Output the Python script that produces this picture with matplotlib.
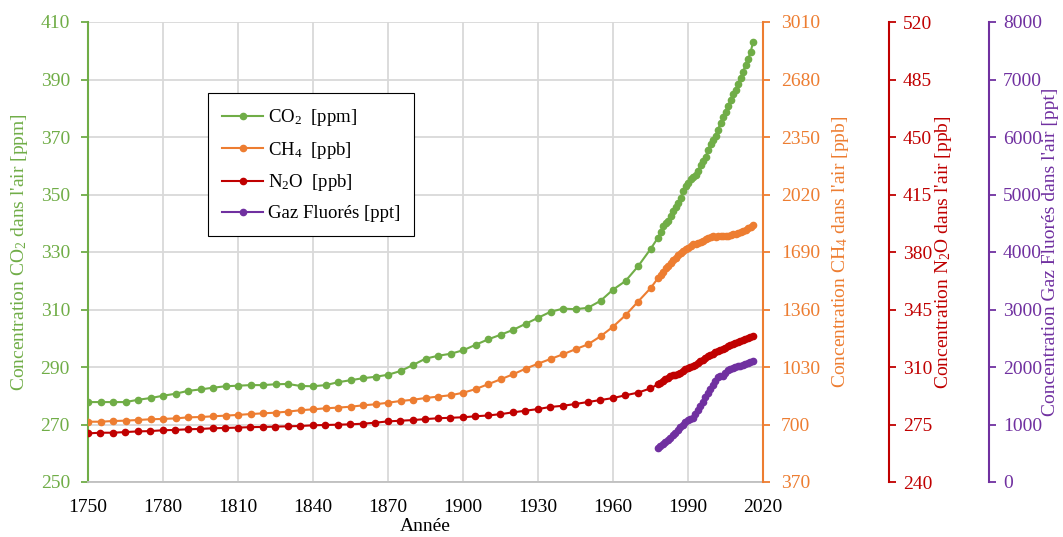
import matplotlib
matplotlib.use("Agg")
import matplotlib.pyplot as plt

plt.rcParams['font.family'] = ['Liberation Serif', 'DejaVu Serif']
plt.rcParams['mathtext.fontset'] = 'custom'
plt.rcParams['mathtext.rm'] = 'Liberation Serif'
plt.rcParams['mathtext.it'] = 'Liberation Serif'
plt.rcParams['font.size'] = 14

# années : tous les 5 ans jusqu'en 1975, puis annuel 1978-2016
annees_hist = list(range(1750, 1980, 5))
annees_mod = list(range(1978, 2017))

co2_hist = [277.8, 277.8, 277.8, 277.8, 278.6, 279.2, 280.0, 280.7, 281.7, 282.2,
            282.8, 283.3, 283.5, 283.7, 283.7, 284.0, 284.1, 283.4, 283.3, 283.7,
            284.7, 285.4, 286.1, 286.6, 287.3, 288.6, 290.7, 292.9, 293.9, 294.6,
            295.8, 297.7, 299.6, 301.2, 302.9, 305.0, 307.1, 309.2, 310.3, 310.1,
            310.6, 313.0, 316.9, 319.9, 325.0, 331.0]
co2_mod = [335.0, 336.8,
           338.9, 340.1, 340.9, 342.5, 344.1, 345.5, 346.9, 348.7, 351.2, 352.8,
           354.0, 355.4, 356.2, 356.9, 358.3, 360.2, 361.8, 362.9, 365.5, 367.5,
           368.8, 370.4, 372.4, 375.0, 376.8, 378.8, 380.9, 382.7, 384.8, 386.3,
           388.6, 390.5, 392.5, 395.2, 397.1, 399.4, 402.9]

ch4_hist = [716, 716, 720, 722, 726, 730, 732, 735, 741, 743,
            747, 751, 755, 760, 764, 768, 774, 782, 787, 793,
            797, 802, 810, 816, 825, 835, 842, 852, 860, 868,
            882, 903, 931, 959, 988, 1020, 1049, 1076, 1103, 1132,
            1160, 1206, 1261, 1327, 1405, 1482]
ch4_mod = [1540, 1560,
           1578, 1596, 1612, 1627, 1644, 1657, 1670, 1683, 1693, 1705,
           1714, 1724, 1735, 1736, 1742, 1749, 1751, 1762, 1772, 1778,
           1779, 1778, 1779, 1781, 1780, 1779, 1780, 1785, 1791, 1796,
           1801, 1805, 1810, 1816, 1825, 1836, 1845]

n2o_hist = [269.6, 270.0, 270.0, 270.4, 270.8, 271.0, 271.5, 271.7, 272.1, 272.3,
            272.7, 272.9, 273.1, 273.4, 273.5, 273.7, 273.9, 274.1, 274.5, 274.7,
            274.9, 275.1, 275.5, 276.1, 276.9, 277.3, 277.7, 278.3, 278.8, 279.1,
            279.4, 280.0, 280.5, 281.3, 282.4, 283.4, 284.4, 285.7, 286.4, 287.5,
            288.7, 289.9, 291.1, 292.8, 294.4, 297.0]
n2o_mod = [299.5, 300.5,
           301.5, 302.6, 303.6, 304.3, 304.9, 305.4, 305.9, 306.6, 307.5, 308.5,
           309.4, 310.1, 310.6, 311.2, 312.3, 313.4, 314.5, 315.7, 316.6, 317.4,
           318.2, 318.9, 319.6, 320.3, 321.0, 321.8, 322.6, 323.2, 323.9, 324.5,
           325.1, 325.8, 326.4, 327.0, 327.6, 328.2, 328.9]

fluor_mod = [590, 625,
             660, 695, 730, 770, 810, 860, 905, 950, 1000, 1040,
             1075, 1095, 1120, 1190, 1260, 1330, 1400, 1470, 1540, 1610,
             1680, 1750, 1820, 1840, 1850, 1900, 1950, 1965, 1980, 1995,
             2010, 2025, 2040, 2055, 2070, 2085, 2100]

annees = annees_hist + annees_mod
vert, orange, rouge, violet = '#70AD47', '#ED7D31', '#C00000', '#7030A0'

fig = plt.figure(figsize=(10.63, 5.37), dpi=100)
ax = fig.add_axes([88/1063, 1 - 482/537, 675/1063, 460/537])
ax2 = ax.twinx()
ax3 = ax.twinx()
ax4 = ax.twinx()

kw = dict(marker='o', markersize=4.5, linewidth=1.5)
l1, = ax.plot(annees, co2_hist + co2_mod, color=vert, label='CO$_2$  [ppm]', **kw)
l2, = ax2.plot(annees, ch4_hist + ch4_mod, color=orange, label='CH$_4$  [ppb]', **kw)
l3, = ax3.plot(annees, n2o_hist + n2o_mod, color=rouge, label='N$_2$O  [ppb]', **kw)
l4, = ax4.plot(annees_mod, fluor_mod, color=violet, label='Gaz Fluorés [ppt]', **kw)

ax.set_xlim(1750, 2020)
ax.set_xticks(range(1750, 2021, 30))
ax.set_ylim(250, 410)
ax.set_yticks(range(250, 411, 20))
ax2.set_ylim(370, 3010)
ax2.set_yticks(range(370, 3011, 330))
ax3.set_ylim(240, 520)
ax3.set_yticks(range(240, 521, 35))
ax4.set_ylim(0, 8000)
ax4.set_yticks(range(0, 8001, 1000))

ax.grid(True, color='#D9D9D9', linewidth=1.3)
ax.set_axisbelow(True)
for s in ['top', 'right']:
    ax.spines[s].set_visible(False)
ax.spines['bottom'].set_color('#BFBFBF')
ax.spines['bottom'].set_linewidth(1.3)
ax.tick_params(axis='x', length=0, pad=12)
ax.set_xlabel('Année', labelpad=2)

for a, c, pos in [(ax, vert, None), (ax2, orange, 1.0), (ax3, rouge, 1.187), (ax4, violet, 1.335)]:
    side = 'left' if a is ax else 'right'
    a.spines[side].set_color(c)
    a.spines[side].set_linewidth(1.5)
    if a is not ax:
        for s in ['top', 'bottom', 'left']:
            a.spines[s].set_visible(False)
        a.spines['right'].set_position(('axes', pos))
    a.tick_params(axis='y', colors=c, length=5, width=1.3, direction='out')

ax.tick_params(axis='y', pad=8)
ax2.tick_params(axis='y', pad=8)
ax3.tick_params(axis='y', pad=5)
ax4.tick_params(axis='y', pad=5)

ax.set_ylabel("Concentration CO$_2$ dans l'air [ppm]", color=vert)
ax2.set_ylabel("Concentration CH$_4$ dans l'air [ppb]", color=orange)
ax3.set_ylabel("Concentration N$_2$O dans l'air [ppb]", color=rouge)
ax4.set_ylabel("Concentration Gaz Fluorés dans l'air [ppt]", color=violet)
ax.yaxis.set_label_coords(-0.086, 0.5)
ax2.yaxis.set_label_coords(1.099, 0.5)
ax3.yaxis.set_label_coords(1.252, 0.5)
ax4.yaxis.set_label_coords(1.413, 0.5)

leg = ax4.legend(handles=[l1, l2, l3, l4], loc='upper left',
                 bbox_to_anchor=(120/675, 389/460), borderaxespad=0,
                 fancybox=False, edgecolor='black', framealpha=1,
                 fontsize=13.5, handlelength=2.2, handletextpad=0.25,
                 labelspacing=0.62, borderpad=0.75)
leg.get_frame().set_linewidth(0.8)

fig.savefig('out.png', dpi=100)
